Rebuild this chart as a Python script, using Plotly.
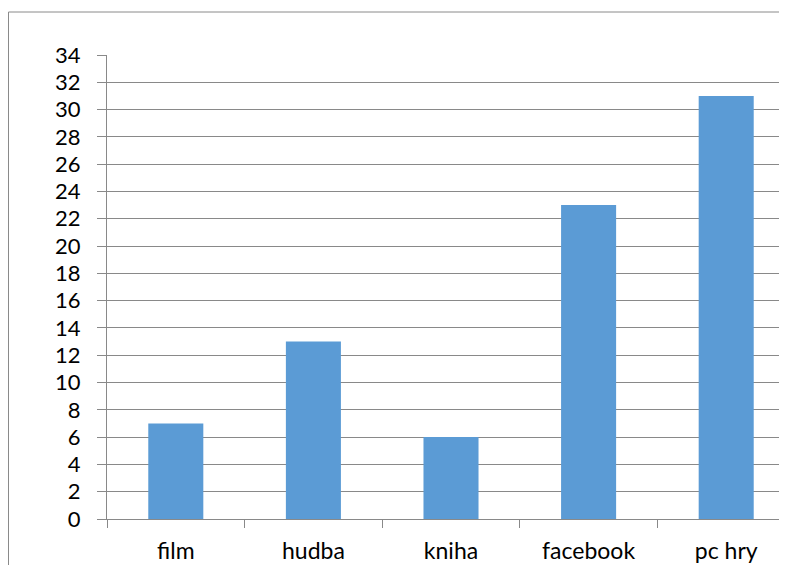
import plotly.graph_objects as go

categories = ["film", "hudba", "kniha", "facebook", "pc hry"]
values = [7, 13, 6, 23, 31]
y_ticks = list(range(0, 35, 2))

# page is rendered with an 8px body offset; keep the figure inside the window
W, H = 779, 557
L, T, B, R = 99, 47, 46, 0
plot_w = W - L - R
plot_h = H - T - B
cat_px = 137.6

fig = go.Figure(go.Bar(
    x=categories, y=values,
    marker=dict(color="#5B9BD5", line=dict(width=0)),
    width=0.4,
))

grid = "#898989"
yfont = dict(family="Lato", size=22, color="#000000")
xfont = dict(family="Lato", size=23, color="#000000")

fig.update_layout(
    width=W, height=H,
    margin=dict(l=L, r=R, t=T, b=B, pad=0),
    paper_bgcolor="white", plot_bgcolor="white",
    showlegend=False,
    font=yfont,
    xaxis=dict(
        type="category",
        range=[-0.5, -0.5 + plot_w / cat_px],
        showline=True, linecolor=grid, linewidth=1,
        ticks="outside", ticklen=8, tickcolor=grid, tickwidth=1,
        tickson="boundaries",
        showgrid=False, automargin=False,
        tickfont=xfont, ticklabelstandoff=11,
    ),
    yaxis=dict(
        range=[0, 34],
        tickvals=y_ticks,
        showline=True, linecolor=grid, linewidth=1,
        ticks="outside", ticklen=9, tickcolor=grid, tickwidth=1,
        showgrid=True, gridcolor=grid, gridwidth=1,
        zeroline=False, automargin=False,
        tickfont=yfont, ticklabelstandoff=12,
    ),
    shapes=[dict(
        type="rect", xref="paper", yref="paper",
        x0=(0.5 - L) / plot_w, x1=1.2,
        y0=-0.3, y1=(H - B - 4) / plot_h,
        line=dict(color="#8a8a8a", width=1),
        fillcolor="rgba(0,0,0,0)", layer="below",
    )],
)

fig.write_html("out.html")
